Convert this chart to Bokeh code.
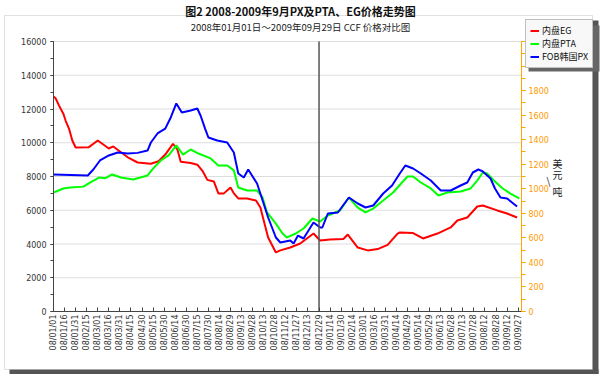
from bokeh.plotting import figure
from bokeh.models import (Range1d, LinearAxis, FixedTicker, Legend, LegendItem,
                          Label, BoxAnnotation)
from bokeh.embed import file_html
from bokeh.resources import INLINE

# ---------------- data ----------------
date_labels = ["08/01/01", "08/01/16", "08/01/31", "08/02/15", "08/03/01", "08/03/16",
               "08/03/31", "08/04/15", "08/04/30", "08/05/15", "08/05/30", "08/06/14",
               "08/06/30", "08/07/15", "08/07/30", "08/08/14", "08/08/29", "08/09/13",
               "08/09/28", "08/10/13", "08/10/28", "08/11/12", "08/11/27", "08/12/13",
               "08/12/29", "09/01/14", "09/01/30", "09/02/14", "09/03/01", "09/03/16",
               "09/03/31", "09/04/14", "09/04/29", "09/05/14", "09/05/29", "09/06/13",
               "09/06/28", "09/07/13", "09/07/28", "09/08/12", "09/08/28", "09/09/12",
               "09/09/27"]
days_per_tick = 10          # trading days between labelled ticks
last_day = 423              # 2009/09/29
year_split_day = 240        # 08/12/29

# trading-day index and price (RMB/t)
eg_day = [0, 2, 5, 9, 11, 14, 17, 20, 32, 40, 50, 54, 61, 68, 76, 88, 95, 101, 108, 112,
          115, 124, 130, 135, 139, 145, 149, 154, 160, 163, 167, 175, 183, 187, 190, 194,
          201, 205, 214, 223, 229, 235, 241, 250, 262, 266, 275, 284, 293, 302, 311, 313,
          325, 334, 347, 359, 365, 374, 383, 388, 401, 410, 419]
eg_val = [12750, 12620, 12200, 11700, 11300, 10840, 10130, 9720, 9740, 10130, 9660, 9780,
          9440, 9100, 8830, 8760, 8900, 9300, 9930, 9600, 8880, 8800, 8700, 8300, 7800,
          7700, 7000, 7000, 7350, 7000, 6700, 6700, 6580, 6160, 5390, 4390, 3500, 3620,
          3790, 4030, 4330, 4620, 4210, 4270, 4300, 4560, 3790, 3620, 3700, 3950, 4620,
          4680, 4650, 4330, 4620, 4980, 5390, 5570, 6220, 6280, 5990, 5810, 5570]

pta_day = [0, 9, 15, 27, 33, 41, 47, 53, 61, 72, 85, 90, 97, 104, 111, 117, 124, 131, 142,
           149, 157, 163, 167, 175, 184, 189, 193, 201, 207, 211, 219, 226, 234, 241, 248,
           259, 267, 275, 282, 289, 298, 307, 315, 320, 325, 332, 341, 348, 356, 368, 377,
           383, 388, 392, 398, 406, 413, 421]
pta_val = [7050, 7290, 7350, 7400, 7640, 7940, 7900, 8120, 7940, 7820, 8060, 8470, 8950,
           9250, 9840, 9300, 9600, 9360, 9070, 8650, 8650, 8360, 7350, 7170, 7170, 6760,
           5870, 5210, 4620, 4390, 4620, 4920, 5510, 5330, 5690, 5985, 6755, 6160, 5870,
           6100, 6580, 7050, 7645, 8000, 8000, 7645, 7290, 6870, 7050, 7110, 7290, 7760,
           8240, 8180, 7760, 7290, 6990, 6700]

px_day = [0, 31, 36, 42, 50, 58, 67, 76, 85, 88, 94, 101, 106, 111, 116, 124, 130, 133,
          137, 140, 148, 157, 163, 167, 172, 176, 184, 189, 194, 201, 205, 214, 217, 221,
          226, 235, 241, 243, 248, 257, 267, 275, 282, 289, 298, 306, 313, 318, 325, 332,
          341, 350, 359, 368, 374, 379, 384, 388, 395, 399, 404, 410, 419]
px_val = [8120, 8060, 8415, 8950, 9245, 9420, 9360, 9400, 9540, 10015, 10550, 10840, 11500,
          12330, 11790, 11910, 12030, 11600, 10840, 10310, 10130, 10015, 9420, 8180, 7940,
          8415, 7585, 6580, 5570, 4385, 4090, 4207, 4030, 4500, 4326, 5274, 4978, 4978,
          5807, 5867, 6755, 6400, 6163, 6281, 6993, 7467, 8178, 8652, 8474, 8178, 7763,
          7170, 7170, 7467, 7645, 8237, 8415, 8300, 7881, 7289, 6755, 6696, 6222]

series_names = ["内盘EG", "内盘PTA", "FOB韩国PX"]
series_colors = ["#FF0000", "#00FF00", "#0000FF"]

rmb_max = 16000
usd_max = 2200
left_ticks = list(range(0, 16001, 2000))
left_minor = list(range(0, 16001, 1000))
right_ticks = list(range(0, 1801, 200))
right_minor = list(range(0, 2201, 100))

main_title = "图2 2008-2009年9月PX及PTA、EG价格走势图"
sub_title = "2008年01月01日～2009年09月29日 CCF 价格对比图"
unit_chars = ["美", "元", "\\", "吨"]

NUM_FONT = "DejaVu Sans"
CJK_FONT = "Noto Sans CJK SC"
ORANGE = "#FFA500"

# ---------------- page geometry (pixels) ----------------
W, H = 600, 374
PL, PR, PT, PB = 53, 521, 41, 311          # plot area edges
x_per_px = last_day / (PR - PL)
y_per_px = rmb_max / (PB - PT)
u_per_px = usd_max / (PB - PT)


def dx(px):
    return (px - PL) * x_per_px


def dy(py):
    return (PB - py) * y_per_px


def du(py):
    return (PB - py) * u_per_px


p = figure(width=W, height=H, output_backend="svg", toolbar_location=None,
           title_location=None,
           x_range=Range1d(dx(0), dx(W)), y_range=Range1d(dy(H), dy(0)),
           min_border=0, min_border_left=0, min_border_right=0,
           min_border_top=0, min_border_bottom=0,
           background_fill_color="white", border_fill_color="white",
           outline_line_color=None)
p.extra_y_ranges = {"usd": Range1d(du(H), du(0))}
p.grid.visible = False

# chart panel border with drop shadow
p.add_layout(BoxAnnotation(left=dx(592), right=dx(598), top=dy(20), bottom=dy(374),
                           fill_color="#555555", fill_alpha=1, line_alpha=0,
                           level="underlay"))
p.add_layout(BoxAnnotation(left=dx(9), right=dx(598), top=dy(369), bottom=dy(374),
                           fill_color="#555555", fill_alpha=1, line_alpha=0,
                           level="underlay"))
p.add_layout(BoxAnnotation(left=dx(4), right=dx(592), top=dy(15), bottom=dy(369),
                           fill_alpha=0, line_color="#9A9A9A", line_width=1,
                           level="underlay"))

# horizontal grid lines
p.segment(x0=[0] * (len(left_ticks) - 1), x1=[last_day] * (len(left_ticks) - 1),
          y0=left_ticks[1:], y1=left_ticks[1:], line_color="#DDDDDD", line_width=1)

# axes drawn at the plot-area edges
tick_days = [i * days_per_tick for i in range(len(date_labels))]
xa = p.xaxis[0]
xa.fixed_location = 0
xa.bounds = (0, last_day)
xa.ticker = FixedTicker(ticks=tick_days)
xa.major_label_overrides = {d: lab for d, lab in zip(tick_days, date_labels)}
xa.major_label_orientation = 3.14159265 / 2
xa.major_label_text_font = NUM_FONT
xa.major_label_text_font_size = "8px"
xa.major_label_text_color = "#333333"
xa.major_tick_in = 4
xa.major_tick_out = 0
xa.minor_tick_line_color = None
xa.axis_line_color = "#444444"
xa.major_tick_line_color = "#444444"
xa.major_label_standoff = 3

ya = p.yaxis[0]
ya.fixed_location = 0
ya.bounds = (0, rmb_max)
ya.ticker = FixedTicker(ticks=left_ticks, minor_ticks=left_minor)
ya.major_label_text_font = NUM_FONT
ya.major_label_text_font_size = "8px"
ya.major_label_text_color = "#333333"
ya.major_tick_out = 3
ya.major_tick_in = 0
ya.minor_tick_out = 3
ya.minor_tick_in = 0
ya.axis_line_color = "#444444"
ya.major_tick_line_color = "#444444"
ya.minor_tick_line_color = "#444444"
ya.major_label_standoff = 4

ra = LinearAxis(y_range_name="usd", fixed_location=last_day, bounds=(0, usd_max),
                ticker=FixedTicker(ticks=right_ticks, minor_ticks=right_minor))
ra.axis_line_color = ORANGE
ra.major_tick_line_color = ORANGE
ra.minor_tick_line_color = ORANGE
ra.major_label_text_color = "#FF9900"
ra.major_label_text_font = NUM_FONT
ra.major_label_text_font_size = "8px"
ra.major_tick_out = 4
ra.major_tick_in = 0
ra.minor_tick_out = 4
ra.minor_tick_in = 0
ra.major_label_standoff = 3
p.add_layout(ra, "right")

# series
r_eg = p.line(eg_day, eg_val, line_color=series_colors[0], line_width=2)
r_pta = p.line(pta_day, pta_val, line_color=series_colors[1], line_width=2)
r_px = p.line(px_day, px_val, line_color=series_colors[2], line_width=2)

# 2008 / 2009 divider
p.segment(x0=[year_split_day], x1=[year_split_day], y0=[0], y1=[rmb_max],
          line_color="#555555", line_width=1.5)

# titles
p.add_layout(Label(x=dx(300), y=dy(10), text=main_title, text_font=CJK_FONT,
                   text_font_size="11px", text_font_style="bold", text_color="#111111",
                   text_align="center", text_baseline="middle"))
p.add_layout(Label(x=dx(300), y=dy(26), text=sub_title, text_font=CJK_FONT,
                   text_font_size="9.5px", text_color="#222222",
                   text_align="center", text_baseline="middle"))

# unit label 美元/吨 beside the right axis
for txt, px_, py_ in zip(unit_chars, [557, 557, 548, 557], [163, 174, 180, 191]):
    p.add_layout(Label(x=dx(px_), y=du(py_), y_range_name="usd", text=txt,
                       text_font=CJK_FONT, text_font_size="10px",
                       text_color="#222222", text_align="center",
                       text_baseline="middle"))

# legend with shadow
p.add_layout(BoxAnnotation(left=dx(528), right=dx(599), top=dy(25), bottom=dy(71),
                           fill_color="#666666", fill_alpha=1, line_alpha=0))
legend = Legend(items=[LegendItem(label=series_names[0], renderers=[r_eg]),
                       LegendItem(label=series_names[1], renderers=[r_pta]),
                       LegendItem(label=series_names[2], renderers=[r_px])],
                location=(525, H - 68), orientation="vertical",
                label_text_font=CJK_FONT, label_text_font_size="9px",
                label_text_color="#111111", label_height=13, glyph_height=13,
                glyph_width=9, label_standoff=3, padding=4, spacing=0, margin=0,
                border_line_color="#888888", border_line_width=1,
                background_fill_color="#F8F8F8", background_fill_alpha=1)
p.add_layout(legend)

open("out.html", "w").write(file_html(p, INLINE))
